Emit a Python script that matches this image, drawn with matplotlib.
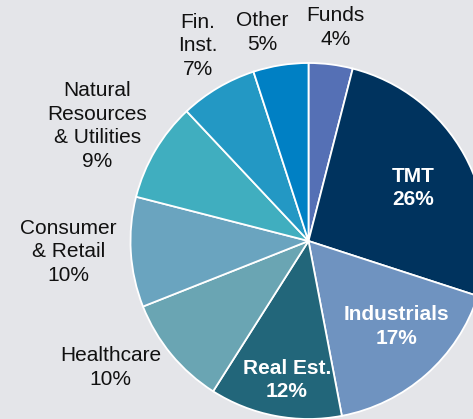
import numpy as np
import matplotlib
matplotlib.use('Agg')
import matplotlib.pyplot as plt

# sectors, clockwise from 12 o'clock
sectors = ['Funds', 'TMT', 'Industrials', 'Real Est.', 'Healthcare',
           'Consumer\n& Retail', 'Natural\nResources\n& Utilities',
           'Fin.\nInst.', 'Other']
shares = [4, 26, 17, 12, 10, 10, 9, 7, 5]

colors = ['#5570b5', '#00335e', '#6f93c0', '#22667a', '#6aa5b3',
          '#6aa4bf', '#40aebf', '#2398c4', '#0080c4']

# label placement: distance from centre (in radii) and angle nudge (deg)
label_dist = [1.21, 0.66, 0.69, 0.79, 1.32, 1.35, 1.35, 1.26, 1.20]
label_nudge = [0, -2, 4.5, 2, -7, -1, 2, -1, 3.5]
inside = [False, True, True, True, False, False, False, False, False]

plt.rcParams['font.family'] = ['Liberation Sans', 'DejaVu Sans']

W, H = 473, 419
cx, cy, R = 308.5, 241, 178  # pixel centre and radius

fig = plt.figure(figsize=(W / 100, H / 100), dpi=100)
fig.patch.set_facecolor('#e4e5e9')
ax = fig.add_axes([0, 0, 1, 1])
ax.set_facecolor('#e4e5e9')

wedges, _ = ax.pie(shares, colors=colors, startangle=90, counterclock=False,
                   radius=1, wedgeprops=dict(edgecolor='white', linewidth=1.3))

for w, name, val, d, nudge, ins in zip(wedges, sectors, shares,
                                        label_dist, label_nudge, inside):
    ang = np.deg2rad((w.theta1 + w.theta2) / 2 + nudge)
    x, y = d * np.cos(ang), d * np.sin(ang)
    if ins:
        ax.text(x, y, f'{name}\n{val}%', ha='center', va='center',
                color='white', fontsize=15, fontweight='bold', linespacing=1.3)
    else:
        ax.text(x, y, f'{name}\n{val}%', ha='center', va='center',
                color='#111111', fontsize=15, linespacing=1.3)

ax.set_aspect('auto')
ax.set_xlim(-cx / R, (W - cx) / R)
ax.set_ylim(-(H - cy) / R, cy / R)
ax.axis('off')

fig.savefig('out.png', dpi=100, facecolor=fig.get_facecolor())
